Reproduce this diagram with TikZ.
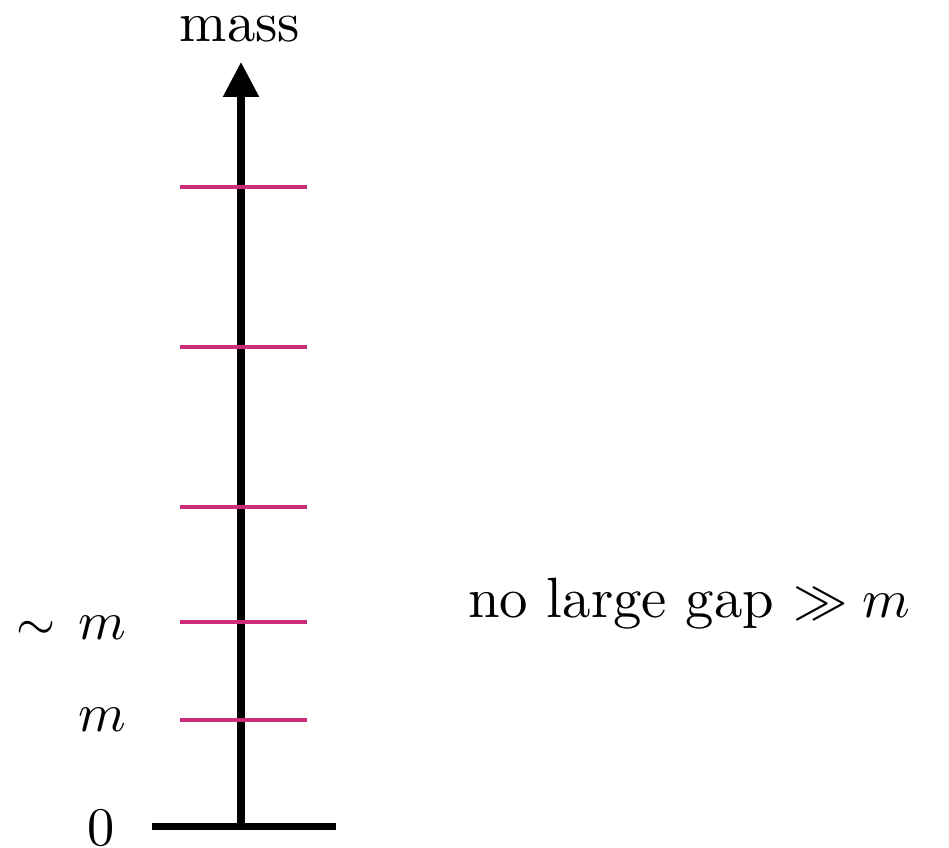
\documentclass[tikz,border=0pt]{standalone}
\usetikzlibrary{arrows.meta}
\definecolor{tickc}{RGB}{204,42,122}
\begin{document}
\begin{tikzpicture}[x=0.184pt,y=0.184pt,
  axisline/.style={line width=1.29pt,black},
  tickline/.style={line width=0.85pt,tickc},
  lbl/.style={inner sep=0pt,font=\fontsize{10.45}{12.5}\selectfont},
  slbl/.style={inner sep=0pt,font=\fontsize{9.9}{12}\selectfont}]
\useasboundingbox (0,0) rectangle (949,848);
\coordinate (b) at (241,21);
\coordinate (t) at (241,786);
\coordinate (bl) at (152,21);
\coordinate (br) at (336,21);
\draw[axisline] (bl) -- (br);
\draw[axisline,-{Triangle[length=6.4pt,width=6.3pt]}] (b) -- (t);
\foreach \y/\n in {661/t5,501/t4,341/t3,226/t2,128/t1}{
  \coordinate (\n l) at (180,\y);
  \coordinate (\n r) at (307,\y);
  \draw[tickline] (\n l) -- (\n r);
}
\node[lbl,anchor=base] (mass) at (240,806) {mass};
\node[slbl,anchor=east] (sim) at (127,220) {{\fontsize{8.6}{10}\selectfont$\sim$}\hspace{4.2pt}$m$};
\node[slbl,anchor=east] (m) at (127,128) {$m$};
\node[lbl,anchor=east] (zero) at (116,20) {$0$};
\node[lbl,anchor=west] (gap) at (467,244) {no large gap $\gg m$};
\end{tikzpicture}
\end{document}
